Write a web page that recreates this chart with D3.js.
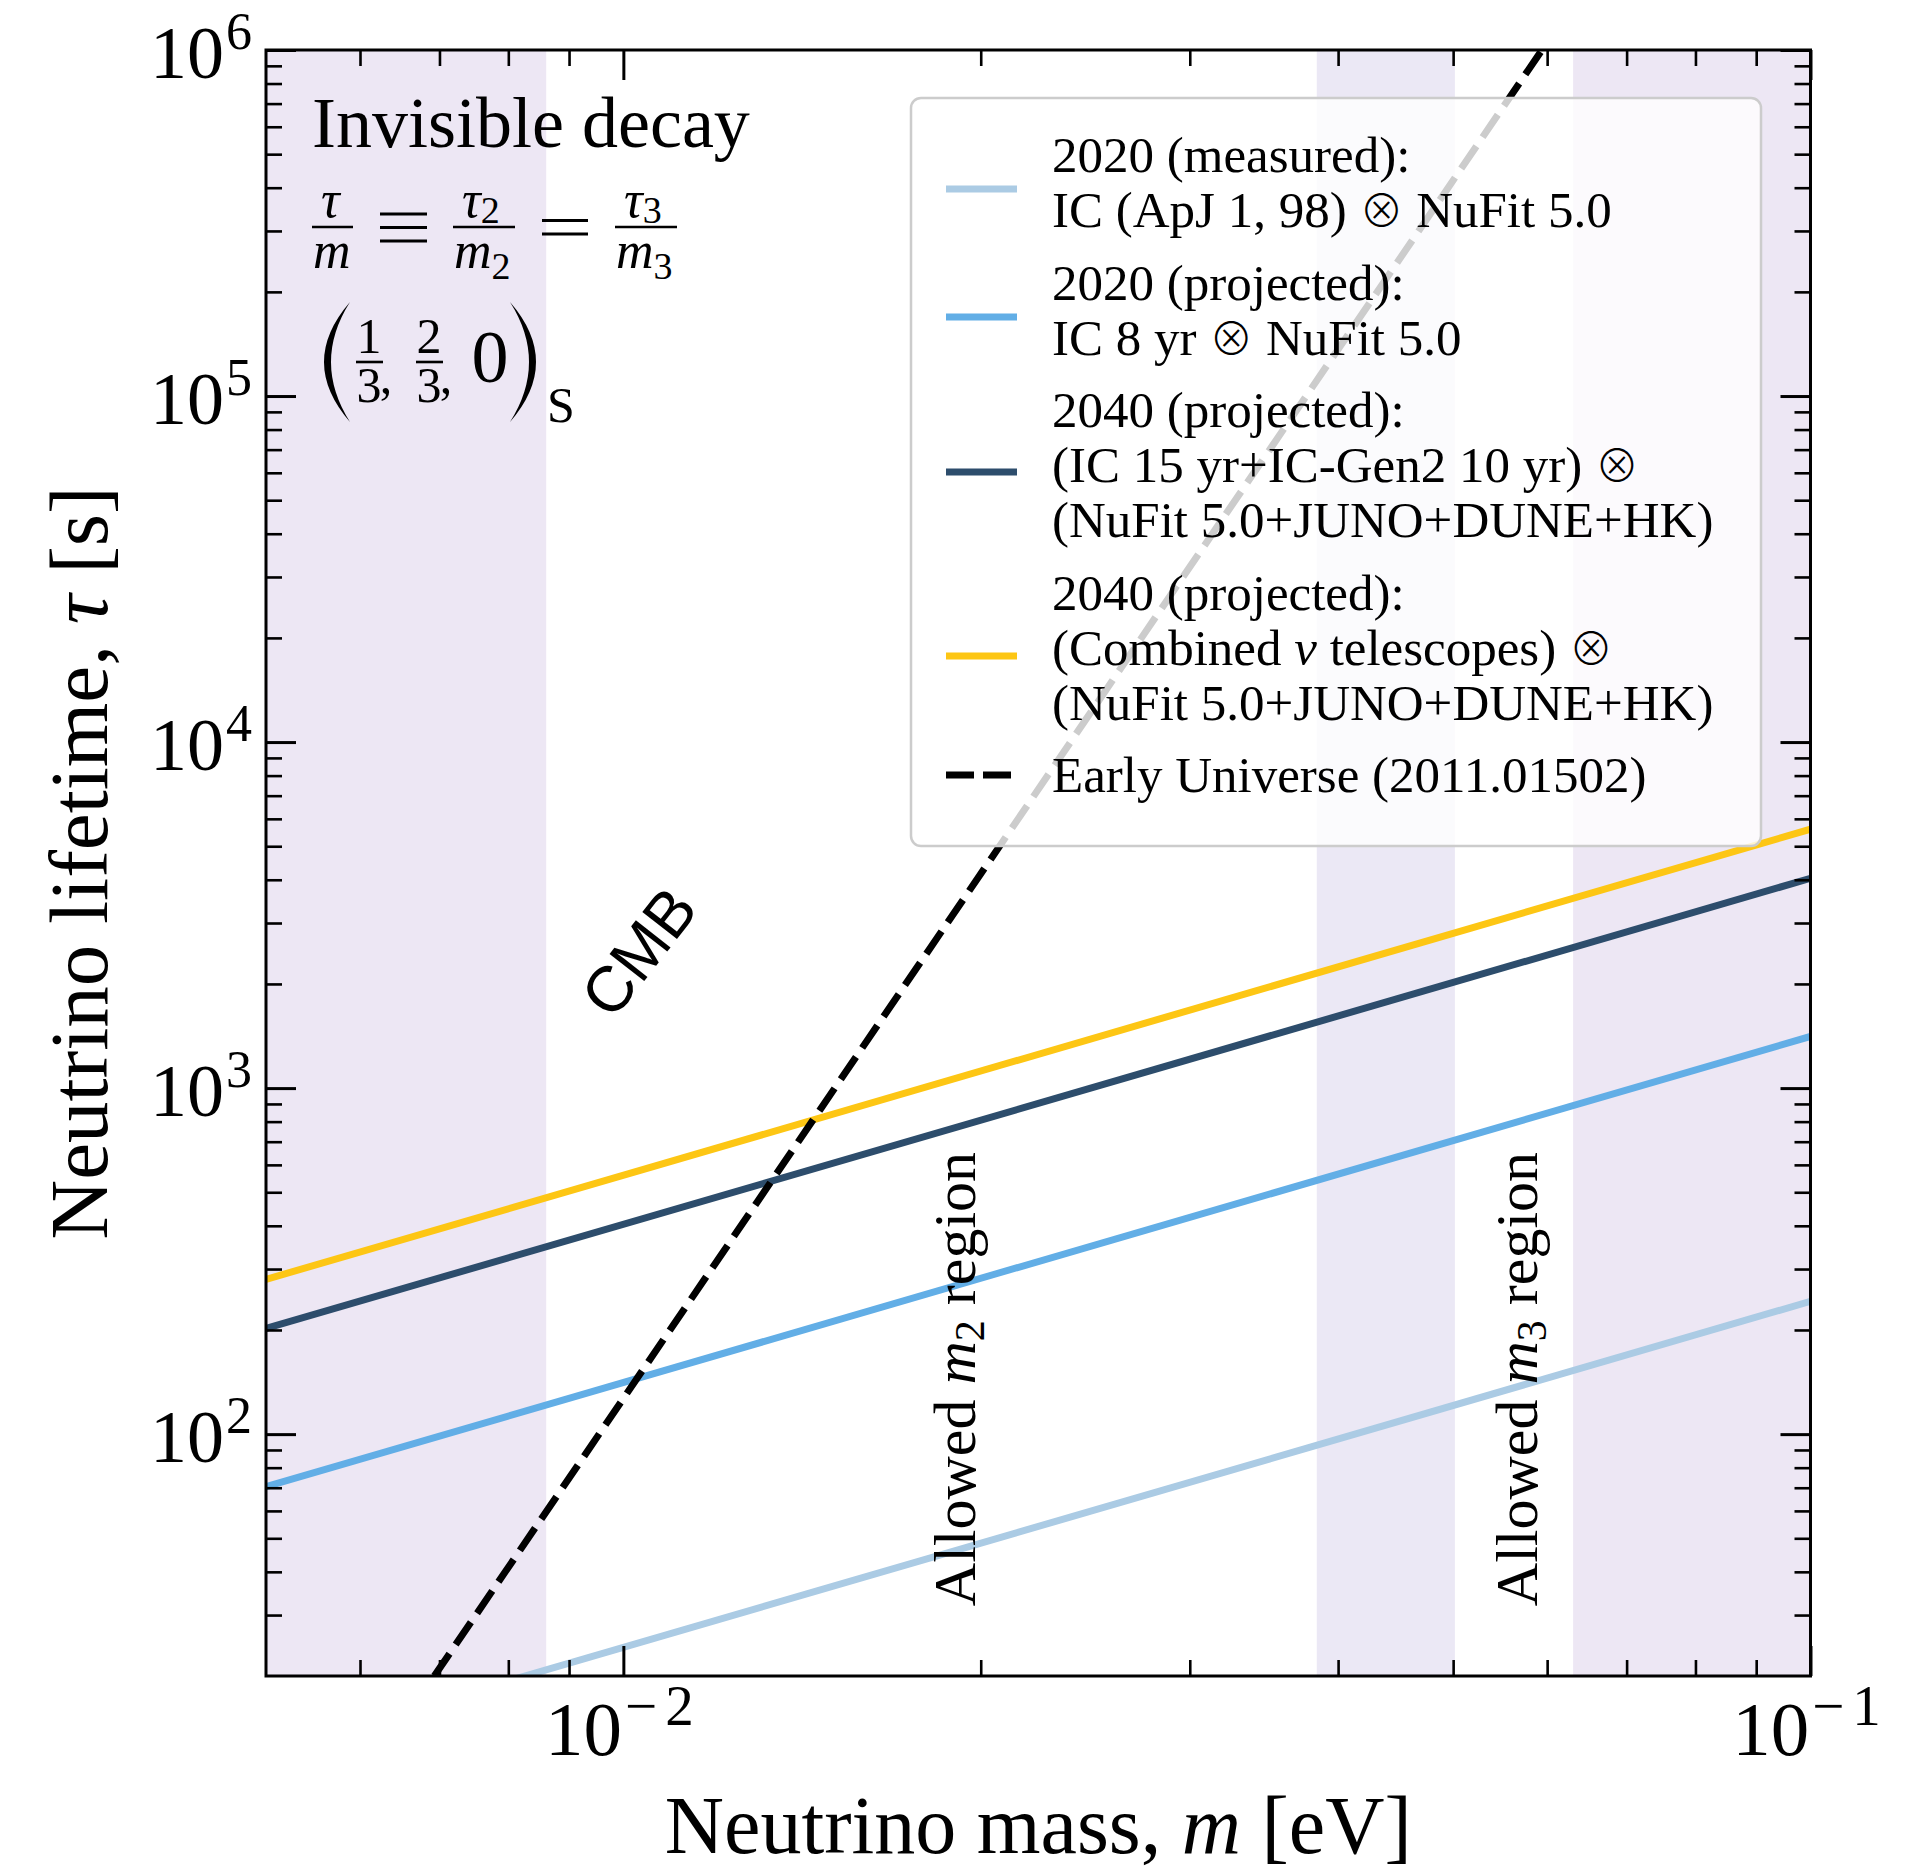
<!DOCTYPE html>
<html><head><meta charset="utf-8">
<script src="https://cdn.jsdelivr.net/npm/d3@7"></script>
<style>body{margin:0;background:#fff}svg{display:block}</style>
</head><body>
<svg id="chart" width="1922" height="1871"></svg>
<script>
// ---------- data ----------
const massDomain = [0.005, 0.1];          // eV
const lifetimeDomain = [20, 1e6];         // s
const xMajorTicks = [0.01, 0.1];
const xMajorExponents = ["\u22122", "\u22121"];
const xMinorTicks = [0.006,0.007,0.008,0.009,0.02,0.03,0.04,0.05,0.06,0.07,0.08,0.09];
const yMajorTicks = [1e2, 1e3, 1e4, 1e5, 1e6];
const yMajorExponents = ["2", "3", "4", "5", "6"];
const yMinorTicks = [30,40,50,60,70,80,90,200,300,400,500,600,700,800,900,
  2e3,3e3,4e3,5e3,6e3,7e3,8e3,9e3,2e4,3e4,4e4,5e4,6e4,7e4,8e4,9e4,
  2e5,3e5,4e5,5e5,6e5,7e5,8e5,9e5];

// shaded regions (mass ranges, eV)
const cmbExcluded = [0.005, 0.00861];
const allowedM2 = [0.03838, 0.05017];
const allowedM3 = [0.0631, 0.1];

// series: [mass (eV), lifetime (s)]
const measured2020   = [[0.005, 12.1], [0.1, 242]];
const projected2020  = [[0.005, 70.5], [0.1, 1410]];
const projected2040IC = [[0.005, 202], [0.1, 4040]];
const projected2040Comb = [[0.005, 280], [0.1, 5600]];
const earlyUniverse  = [[0.00693, 20], [0.0594, 1e6]];

const seriesNames = ["2020 (measured)", "2020 (projected)", "2040 (projected) IC", "2040 (projected) combined"];
const seriesColors = ["#abcbe4", "#62aee6", "#2d4d6c", "#fdc614"];
const seriesData = [measured2020, projected2020, projected2040IC, projected2040Comb];

// ---------- layout ----------
const svg = d3.select("#chart");
const L = 266, R = 1810.5, T = 50, B = 1676;
const x = d3.scaleLog().domain(massDomain).range([L, R]);
const y = d3.scaleLog().domain(lifetimeDomain).range([B, T]);
const serif = "'Liberation Serif','DejaVu Serif',serif";

svg.append("defs").append("clipPath").attr("id", "plotclip")
  .append("rect").attr("x", L).attr("y", T).attr("width", R - L).attr("height", B - T);

const plot = svg.append("g").attr("clip-path", "url(#plotclip)");

// shaded bands
plot.selectAll("rect.band").data([cmbExcluded, allowedM2, allowedM3]).enter()
  .append("rect").attr("class", "band")
  .attr("x", d => x(d[0])).attr("width", d => x(d[1]) - x(d[0]))
  .attr("y", T).attr("height", B - T)
  .attr("fill", (d, i) => i === 1 ? "#ebe8f5" : "#ede7f4");

const line = d3.line().x(d => x(d[0])).y(d => y(d[1]));

plot.selectAll("path.series").data(seriesData).enter()
  .append("path").attr("class", "series")
  .attr("d", line).attr("fill", "none")
  .attr("stroke", (d, i) => seriesColors[i]).attr("stroke-width", 7);

plot.append("path").datum(earlyUniverse).attr("d", line)
  .attr("fill", "none").attr("stroke", "#000").attr("stroke-width", 7)
  .attr("stroke-dasharray", "27,11");

// ---------- annotations ----------
const ann = svg.append("g").attr("font-family", serif).attr("fill", "#000");
ann.append("text").attr("x", 312).attr("y", 147).attr("font-size", 72).text("Invisible decay");

function hbar(x1, x2, yy, w) {
  ann.append("line").attr("x1", x1).attr("x2", x2).attr("y1", yy).attr("y2", yy)
    .attr("stroke", "#000").attr("stroke-width", w || 2.6);
}
// tau/m fraction as one text element; tx/mx are start positions
function frac(tx, mx, sub) {
  const t = ann.append("text").attr("font-size", 52);
  t.append("tspan").attr("x", tx).attr("y", 217).attr("font-style", "italic").text("\u03c4");
  if (sub) t.append("tspan").attr("dy", 6).attr("font-size", 38).text(sub);
  t.append("tspan").attr("x", mx).attr("y", 268).attr("font-style", "italic").text("m");
  if (sub) t.append("tspan").attr("dy", 11).attr("font-size", 38).text(sub);
}
frac(321, 313, null); hbar(312, 353, 227);
hbar(380, 427, 214, 3); hbar(380, 427, 227.5, 3); hbar(380, 427, 241, 3);
frac(462, 454, "2"); hbar(453, 515, 227);
hbar(542, 588, 220.5, 3); hbar(542, 588, 234, 3);
frac(624, 616, "3"); hbar(615, 677, 227);

// (1/3, 2/3, 0)_S
ann.append("path").attr("d", "M350,302 Q298,362 350,422 Q312,362 350,302 Z");
ann.append("path").attr("d", "M510,302 Q562,362 510,422 Q548,362 510,302 Z");
function numfrac(cx, n) {
  const t = ann.append("text").attr("font-size", 50).attr("text-anchor", "middle");
  t.append("tspan").attr("x", cx).attr("y", 353).text(n);
  t.append("tspan").attr("x", cx).attr("y", 402).text("3");
  t.append("tspan").attr("x", cx + 17).attr("y", 393).text(",");
  hbar(cx - 13, cx + 14, 362);
}
numfrac(369, "1");
numfrac(429, "2");
ann.append("text").attr("x", 490).attr("y", 382).attr("font-size", 74).attr("text-anchor", "middle").text("0");
ann.append("text").attr("x", 547).attr("y", 422).attr("font-size", 50).text("S");

// CMB
svg.append("text").attr("transform", "translate(639,952) rotate(-52)")
  .attr("text-anchor", "middle").attr("dominant-baseline", "central")
  .attr("font-family", "'Liberation Sans',Arial,sans-serif").attr("font-size", 64)
  .text("CMB");

// Allowed regions
function allowed(xb, sub) {
  const t = svg.append("text").attr("transform", `translate(${xb},1379) rotate(-90)`)
    .attr("text-anchor", "middle").attr("font-family", serif).attr("font-size", 60);
  t.append("tspan").text("Allowed ");
  t.append("tspan").attr("font-style", "italic").text("m");
  t.append("tspan").attr("font-size", 42).attr("dy", 9).text(sub);
  t.append("tspan").attr("dy", -9).text(" region");
}
allowed(975, "2");
allowed(1537, "3");

// ---------- legend ----------
const leg = svg.append("g").attr("font-family", serif).attr("font-size", 51);
leg.append("rect").attr("x", 911).attr("y", 98).attr("width", 850).attr("height", 748)
  .attr("rx", 10).attr("fill", "#fff").attr("fill-opacity", 0.8)
  .attr("stroke", "#cccccc").attr("stroke-width", 2.5);

const OT = "\u2297";
const legendEntries = [
  {color: seriesColors[0], ly: 189, base: 172, lines: [[["2020 (measured):"]], [["IC (ApJ 1, 98) "], [OT, "o"], [" NuFit 5.0"]]]},
  {color: seriesColors[1], ly: 317, base: 300, lines: [[["2020 (projected):"]], [["IC 8 yr "], [OT, "o"], [" NuFit 5.0"]]]},
  {color: seriesColors[2], ly: 472, base: 427, lines: [[["2040 (projected):"]], [["(IC 15 yr+IC-Gen2 10 yr) "], [OT, "o"]], [["(NuFit 5.0+JUNO+DUNE+HK)"]]]},
  {color: seriesColors[3], ly: 656, base: 610, lines: [[["2040 (projected):"]], [["(Combined "], ["\u03bd", "i"], [" telescopes) "], [OT, "o"]], [["(NuFit 5.0+JUNO+DUNE+HK)"]]]},
  {color: "#000", ly: 775, base: 792, dashed: true, lines: [[["Early Universe (2011.01502)"]]]}
];
legendEntries.forEach(e => {
  leg.append("line").attr("x1", 946).attr("x2", 1017).attr("y1", e.ly).attr("y2", e.ly)
    .attr("stroke", e.color).attr("stroke-width", 7)
    .attr("stroke-dasharray", e.dashed ? "28,9" : null);
  e.lines.forEach((ln, i) => {
    const t = leg.append("text").attr("x", 1052).attr("y", e.base + i * 55);
    ln.forEach(seg => {
      const ts = t.append("tspan").text(seg[0]);
      if (seg[1] === "i") ts.attr("font-style", "italic");
      if (seg[1] === "o") ts.attr("font-family", "'Noto Sans CJK JP','DejaVu Sans',sans-serif").attr("font-weight", 300).attr("font-size", 44);
    });
  });
});

// ---------- axes ----------
const axes = svg.append("g");
function styleAxis(g, w) {
  g.select(".domain").remove();
  g.selectAll(".tick line").attr("stroke", "#000").attr("stroke-width", w);
}
axes.append("g").attr("transform", `translate(0,${B})`)
  .call(d3.axisBottom(x).tickValues(xMajorTicks).tickSize(-30).tickFormat("")).call(g => styleAxis(g, 3));
axes.append("g").attr("transform", `translate(0,${B})`)
  .call(d3.axisBottom(x).tickValues(xMinorTicks).tickSize(-16).tickFormat("")).call(g => styleAxis(g, 2.6));
axes.append("g").attr("transform", `translate(0,${T})`)
  .call(d3.axisTop(x).tickValues(xMajorTicks).tickSize(-30).tickFormat("")).call(g => styleAxis(g, 3));
axes.append("g").attr("transform", `translate(0,${T})`)
  .call(d3.axisTop(x).tickValues(xMinorTicks).tickSize(-16).tickFormat("")).call(g => styleAxis(g, 2.6));
axes.append("g").attr("transform", `translate(${L},0)`)
  .call(d3.axisLeft(y).tickValues(yMajorTicks).tickSize(-30).tickFormat("")).call(g => styleAxis(g, 3));
axes.append("g").attr("transform", `translate(${L},0)`)
  .call(d3.axisLeft(y).tickValues(yMinorTicks).tickSize(-16).tickFormat("")).call(g => styleAxis(g, 2.6));
axes.append("g").attr("transform", `translate(${R},0)`)
  .call(d3.axisRight(y).tickValues(yMajorTicks).tickSize(-30).tickFormat("")).call(g => styleAxis(g, 3));
axes.append("g").attr("transform", `translate(${R},0)`)
  .call(d3.axisRight(y).tickValues(yMinorTicks).tickSize(-16).tickFormat("")).call(g => styleAxis(g, 2.6));

axes.append("rect").attr("x", L).attr("y", T).attr("width", R - L).attr("height", B - T)
  .attr("fill", "none").attr("stroke", "#000").attr("stroke-width", 3);

// tick labels
const lab = svg.append("g").attr("font-family", serif).attr("fill", "#000");
xMajorTicks.forEach((v, i) => {
  const t = lab.append("text").attr("x", x(v)).attr("y", 1755).attr("text-anchor", "middle").attr("font-size", 77);
  t.append("tspan").text("10");
  t.append("tspan").attr("font-size", 57).attr("dx", 3).attr("dy", -30).attr("letter-spacing", 8).text(xMajorExponents[i]);
});
yMajorTicks.forEach((v, i) => {
  const t = lab.append("text").attr("x", 252).attr("y", y(v) + 28).attr("text-anchor", "end").attr("font-size", 74);
  t.append("tspan").text("10");
  t.append("tspan").attr("font-size", 52).attr("dx", 2).attr("dy", -29).text(yMajorExponents[i]);
});

// axis titles
const xt = lab.append("text").attr("x", (L + R) / 2).attr("y", 1853).attr("text-anchor", "middle").attr("font-size", 82);
xt.append("tspan").text("Neutrino mass, ");
xt.append("tspan").attr("font-style", "italic").text("m");
xt.append("tspan").text(" [eV]");
const yt = lab.append("text").attr("transform", `translate(107,${(T + B) / 2}) rotate(-90)`)
  .attr("text-anchor", "middle").attr("font-size", 83);
yt.append("tspan").text("Neutrino lifetime, ");
yt.append("tspan").attr("font-style", "italic").text("\u03c4");
yt.append("tspan").text(" [s]");
</script>
</body></html>
